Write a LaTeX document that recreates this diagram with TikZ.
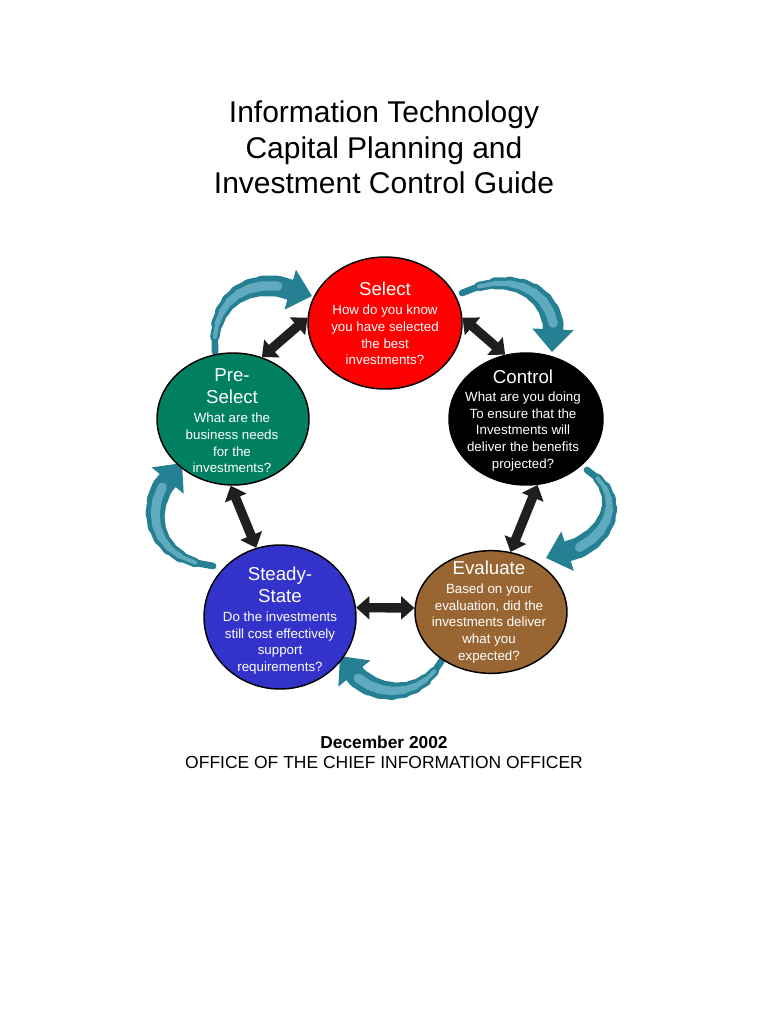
\documentclass[tikz,border=0pt]{standalone}
\usepackage{fontspec}
\setmainfont{Liberation Sans}
\usetikzlibrary{arrows.meta,shapes.geometric}
\definecolor{selred}{RGB}{255,0,0}
\definecolor{pregreen}{RGB}{0,128,96}
\definecolor{steadyblue}{RGB}{51,51,204}
\definecolor{evalbrown}{RGB}{153,102,51}
\definecolor{tealdark}{RGB}{38,128,148}
\definecolor{teallight}{RGB}{96,170,190}
\newcommand\tealarrow[4]{%
  \path #1 .. controls #2 and #3 .. #4
    coordinate[pos=0] (tq0) coordinate[pos=0.1] (tq1) coordinate[pos=0.2] (tq2)
    coordinate[pos=0.3] (tq3) coordinate[pos=0.4] (tq4) coordinate[pos=0.5] (tq5)
    coordinate[pos=0.6] (tq6) coordinate[pos=0.7] (tq7) coordinate[pos=0.8] (tq8)
    coordinate[pos=0.9] (tq9) coordinate[pos=1] (tq10);
  \foreach \j/\k/\w in {0/1/5,1/2/7,2/3/9,3/4/10.5,4/5/12,5/6/13.5,6/7/14.5,7/8/15.5}
    \draw[tealdark, line width=\w pt, line cap=round] (tq\j) -- (tq\k);
  \draw[tealdark, line width=15.5pt, -{Triangle[width=30pt,length=17pt]}] (tq8) -- (tq10);
  \foreach \j/\k/\w in {1/2/3,2/3/4,3/4/5,4/5/6,5/6/6.5,6/7/7,7/8/7}
    \draw[teallight, line width=\w pt, line cap=round] (tq\j) -- (tq\k);
}
\tikzset{
  phase/.style={ellipse, draw=black, line width=1.1pt, inner sep=0pt},
  ttl/.style={text=white, font=\fontsize{14}{16.5}\selectfont, align=center, inner sep=0pt},
  bdy/.style={text=white, font=\fontsize{10}{12.5}\selectfont, align=center, inner sep=0pt},
  dbl/.style={draw=black!88, line width=7pt,
    {Triangle[width=17pt,length=10pt]}-{Triangle[width=17pt,length=10pt]}}
}
\begin{document}
\begin{tikzpicture}[x=0.75pt,y=-0.75pt]
\useasboundingbox (0,0) rectangle (768,1024);
\fill[white] (0,0) rectangle (768,1024);

% title
\node[font=\fontsize{22.5}{26.6}\selectfont, align=center] (title) at (384,147.5)
  {Information Technology\\Capital Planning and\\Investment Control Guide};

% teal cycle arrows
\tealarrow{(215,352)}{(210,300)}{(250,268)}{(312,296)}
\tealarrow{(462,293)}{(520,265)}{(565,300)}{(552,352)}
\tealarrow{(587,470)}{(628,495)}{(612,548)}{(546,558)}
\tealarrow{(442,660)}{(420,702)}{(365,702)}{(340,656)}
\tealarrow{(213,566)}{(148,560)}{(138,500)}{(182,463)}

% phases
\node[phase, fill=selred, minimum width=115.5pt, minimum height=99pt] (sel) at (385,323) {};
\node[phase, fill=pregreen, minimum width=114pt, minimum height=99pt] (pre) at (233,419) {};
\node[phase, fill=black, minimum width=115.5pt, minimum height=99pt] (ctl) at (526,419) {};
\node[phase, fill=steadyblue, minimum width=114pt, minimum height=108pt] (std) at (280,617) {};
\node[phase, fill=evalbrown, minimum width=114pt, minimum height=92pt] (evl) at (491,612) {};

% texts
\node[ttl] (selt) at (385,289) {Select};
\node[bdy] (selb) at (385,335) {How do you know\\you have selected\\the best\\investments?};
\node[ttl] (pret) at (232,386) {Pre-\\Select};
\node[bdy] (preb) at (232,443) {What are the\\business needs\\for the\\investments?};
\node[ttl] (ctlt) at (523,377) {Control};
\node[bdy] (ctlb) at (523,431.5) {What are you doing\\To ensure that the\\Investments will\\deliver the benefits\\projected?};
\node[ttl] (stdt) at (280,585) {Steady-\\State};
\node[bdy] (stdb) at (280,643) {Do the investments\\still cost effectively\\support\\requirements?};
\node[ttl] (evlt) at (489,568) {Evaluate};
\node[bdy] (evlb) at (489,623.5) {Based on your\\evaluation, did the\\investments deliver\\what you\\expected?};

% black double arrows
\draw[dbl] (pre.65) -- (sel.176);
\draw[dbl] (sel.4) -- (ctl.108);
\draw[dbl] (pre.268) -- (std.109);
\draw[dbl] (ctl.280) -- (evl.72);
\draw[dbl] (std.7) -- (evl.177);

% footer
\node[font=\bfseries\fontsize{13}{15}\selectfont] (date) at (384,742) {December 2002};
\node[font=\fontsize{13.1}{15}\selectfont] (office) at (384,762) {OFFICE OF THE CHIEF INFORMATION OFFICER};
\end{tikzpicture}
\end{document}
